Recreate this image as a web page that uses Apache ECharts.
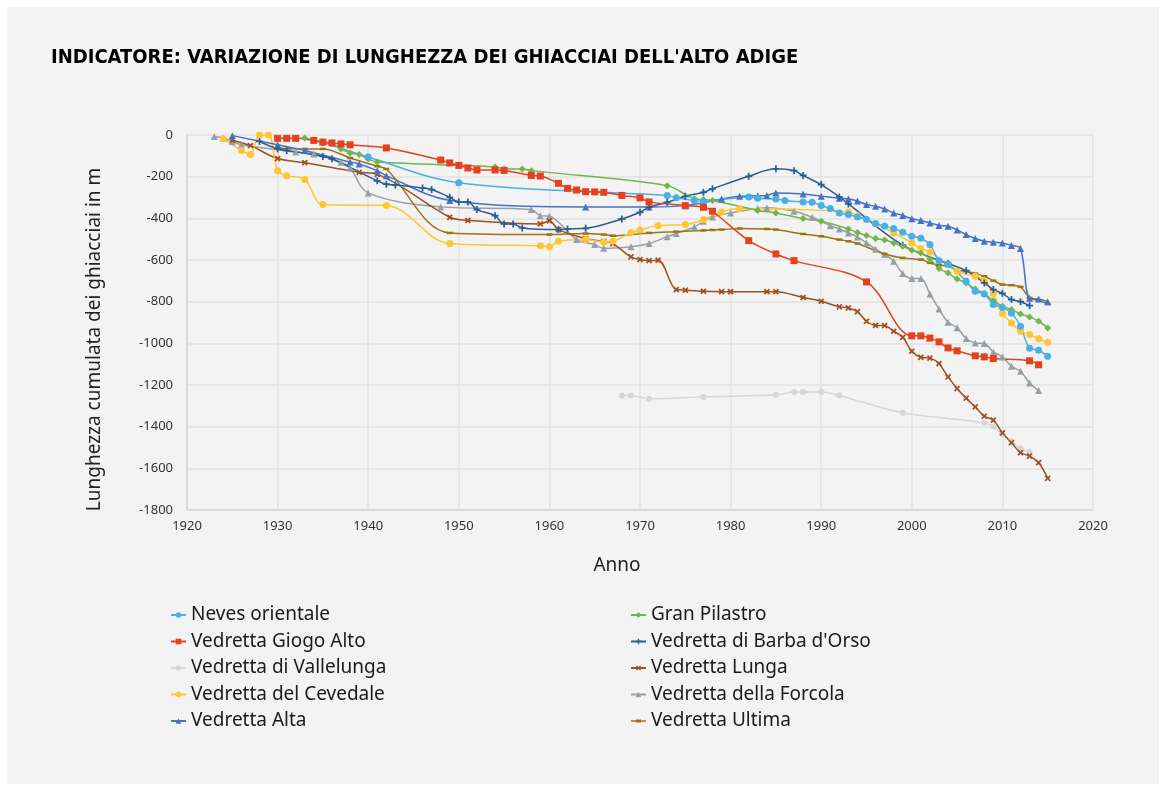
<!DOCTYPE html>
<html>
<head>
<meta charset="utf-8">
<script src="https://cdn.jsdelivr.net/npm/echarts@6/dist/echarts.min.js"></script>
<style>
  html, body { margin: 0; padding: 0; background: #fff; }
  #main { width: 1166px; height: 791px; background: #f3f3f3; border: 7px solid #fff; box-sizing: border-box; }
</style>
</head>
<body>
<div id="main"></div>
<script>
  // dati: [anno, metri]
  const neves = [[1935,-35],[1940,-106],[1950,-229],[1973,-290],[1974,-301],[1976,-315],[1977,-318],[1982,-297],[1983,-304],[1985,-307],[1986,-314],[1988,-321],[1989,-323],[1990,-338],[1991,-353],[1992,-374],[1993,-382],[1994,-393],[1995,-405],[1996,-425],[1997,-437],[1998,-449],[1999,-467],[2000,-486],[2001,-496],[2002,-526],[2003,-603],[2004,-619],[2006,-702],[2007,-750],[2008,-763],[2009,-813],[2010,-828],[2011,-856],[2012,-918],[2013,-1023],[2014,-1033],[2015,-1062]]
  const giogoAlto = [[1930,-16],[1931,-16],[1932,-16],[1934,-26],[1935,-34],[1936,-38],[1937,-43],[1938,-47],[1942,-62],[1948,-120],[1949,-134],[1950,-146],[1951,-158],[1952,-168],[1954,-168],[1955,-170],[1958,-194],[1959,-197],[1961,-232],[1962,-256],[1963,-264],[1964,-272],[1965,-273],[1966,-275],[1968,-290],[1970,-302],[1971,-321],[1975,-339],[1977,-347],[1978,-366],[1982,-507],[1985,-571],[1987,-603],[1995,-705],[2000,-964],[2001,-964],[2002,-975],[2003,-993],[2004,-1022],[2005,-1036],[2007,-1060],[2008,-1065],[2009,-1073],[2013,-1084],[2014,-1103]]
  const vallelunga = [[1968,-1250],[1969,-1250],[1971,-1266],[1977,-1257],[1985,-1247],[1987,-1234],[1988,-1234],[1990,-1234],[1992,-1250],[1999,-1333],[2008,-1381],[2009,-1400],[2010,-1437],[2011,-1469],[2012,-1504],[2013,-1520]]
  const cevedale = [[1924,-18],[1926,-74],[1927,-94],[1928,0],[1929,0],[1930,-171],[1931,-195],[1933,-214],[1935,-334],[1942,-338],[1949,-521],[1959,-532],[1960,-536],[1961,-510],[1964,-502],[1966,-513],[1967,-510],[1969,-469],[1970,-456],[1972,-435],[1975,-430],[1977,-406],[1979,-369],[1981,-353],[1993,-369],[1994,-387],[1996,-425],[1998,-470],[2000,-518],[2001,-545],[2002,-561],[2005,-654],[2007,-678],[2008,-699],[2009,-761],[2010,-857],[2011,-902],[2012,-942],[2013,-958],[2014,-978],[2015,-995]]
  const alta = [[1925,-3],[1930,-47],[1933,-74],[1938,-130],[1939,-139],[1941,-171],[1942,-195],[1949,-314],[1964,-345],[1971,-345],[1975,-339],[1979,-307],[1981,-294],[1983,-292],[1984,-290],[1985,-278],[1988,-283],[1990,-294],[1992,-304],[1993,-307],[1994,-317],[1995,-334],[1996,-342],[1997,-355],[1998,-374],[1999,-386],[2000,-402],[2001,-410],[2002,-422],[2003,-434],[2004,-438],[2005,-456],[2006,-478],[2007,-497],[2008,-510],[2009,-515],[2010,-518],[2011,-530],[2012,-545],[2013,-784],[2014,-787],[2015,-800]]
  const granPilastro = [[1933,-14],[1934,-26],[1935,-38],[1936,-42],[1937,-67],[1938,-86],[1939,-94],[1940,-115],[1941,-130],[1954,-153],[1955,-163],[1957,-163],[1958,-171],[1973,-243],[1976,-306],[1977,-310],[1978,-314],[1983,-362],[1985,-374],[1988,-401],[1990,-414],[1993,-451],[1994,-468],[1995,-482],[1996,-497],[1997,-504],[1998,-518],[1999,-534],[2000,-553],[2001,-566],[2002,-595],[2003,-641],[2004,-662],[2005,-691],[2006,-710],[2007,-739],[2008,-761],[2009,-795],[2010,-822],[2011,-838],[2012,-859],[2013,-873],[2014,-894],[2015,-926]]
  const barbaOrso = [[1928,-31],[1930,-67],[1931,-74],[1935,-103],[1936,-114],[1941,-220],[1942,-236],[1943,-240],[1946,-254],[1947,-262],[1949,-299],[1950,-321],[1951,-321],[1952,-358],[1954,-387],[1955,-427],[1956,-427],[1957,-446],[1961,-454],[1962,-451],[1964,-448],[1968,-403],[1970,-371],[1971,-346],[1973,-323],[1975,-294],[1977,-275],[1978,-258],[1982,-198],[1985,-162],[1987,-171],[1988,-194],[1990,-238],[1992,-297],[1993,-331],[1999,-529],[2004,-617],[2006,-651],[2008,-710],[2009,-742],[2010,-760],[2011,-790],[2012,-800],[2013,-819]]
  const lunga = [[1925,-25],[1927,-51],[1930,-113],[1933,-133],[1939,-179],[1941,-189],[1949,-395],[1951,-410],[1959,-427],[1960,-412],[1961,-454],[1964,-497],[1966,-511],[1967,-521],[1969,-585],[1970,-598],[1971,-603],[1972,-601],[1974,-742],[1975,-745],[1977,-750],[1979,-752],[1980,-752],[1984,-752],[1985,-752],[1988,-780],[1990,-798],[1992,-825],[1993,-830],[1994,-848],[1995,-894],[1996,-914],[1997,-915],[1998,-942],[1999,-971],[2000,-1038],[2001,-1067],[2002,-1071],[2003,-1097],[2004,-1161],[2005,-1217],[2006,-1263],[2007,-1305],[2008,-1350],[2009,-1369],[2010,-1430],[2011,-1477],[2012,-1525],[2013,-1541],[2014,-1573],[2015,-1648]]
  const forcola = [[1923,-7],[1924,-14],[1925,-31],[1926,-47],[1932,-82],[1934,-91],[1937,-131],[1938,-158],[1940,-278],[1948,-345],[1958,-358],[1959,-387],[1960,-390],[1963,-502],[1965,-526],[1966,-544],[1969,-536],[1971,-521],[1973,-488],[1974,-473],[1976,-441],[1977,-414],[1978,-393],[1980,-374],[1983,-353],[1984,-349],[1987,-366],[1989,-395],[1991,-435],[1992,-451],[1993,-470],[1994,-489],[1995,-518],[1996,-548],[1997,-574],[1998,-606],[1999,-665],[2000,-689],[2001,-689],[2002,-763],[2003,-835],[2004,-899],[2005,-925],[2006,-977],[2007,-998],[2008,-1001],[2009,-1041],[2010,-1065],[2011,-1110],[2012,-1134],[2013,-1190],[2014,-1226]]
  const ultima = [[1930,-62],[1933,-67],[1935,-67],[1938,-110],[1941,-150],[1942,-163],[1949,-470],[1960,-478],[1964,-473],[1966,-478],[1967,-483],[1971,-470],[1974,-464],[1977,-458],[1978,-456],[1979,-454],[1981,-449],[1984,-451],[1985,-454],[1988,-475],[1990,-486],[1992,-502],[1993,-510],[1994,-521],[1997,-571],[1999,-590],[2001,-598],[2002,-614],[2003,-625],[2004,-630],[2005,-649],[2006,-654],[2007,-665],[2008,-678],[2009,-699],[2010,-718],[2011,-721],[2012,-729],[2013,-782],[2014,-795],[2015,-811]]

  const leftNames = ['Neves orientale', 'Vedretta Giogo Alto', 'Vedretta di Vallelunga', 'Vedretta del Cevedale', 'Vedretta Alta']
  const rightNames = ['Gran Pilastro', "Vedretta di Barba d'Orso", 'Vedretta Lunga', 'Vedretta della Forcola', 'Vedretta Ultima']

  // simboli
  const plus = 'path://M3,0H5V3H8V5H5V8H3V5H0V3H3Z'
  const dashIcon = 'path://M0,3.2H15V4.8H0Z M5,2.4H10V5.6H5Z'

  const chart = echarts.init(document.getElementById('main'))

  const mkSeries = (name, data, color, symbol, size, extra) => Object.assign({
    name: name,
    type: 'line',
    data: data,
    smooth: 0.35,
    symbol: symbol,
    symbolSize: size,
    showAllSymbol: true,
    lineStyle: { color: color, width: 1.5 },
    itemStyle: { color: color },
    emphasis: { disabled: true },
    animation: false
  }, extra || {})

  const legendBase = {
    orient: 'vertical',
    top: 592,
    itemWidth: 15,
    itemHeight: 7,
    itemGap: 4.5,
    textStyle: { fontFamily: 'Noto Sans', fontSize: 19, color: '#1a1a1a', lineHeight: 22 }
  }

  chart.setOption({
    title: {
      text: "INDICATORE: VARIAZIONE DI LUNGHEZZA DEI GHIACCIAI DELL'ALTO ADIGE",
      left: 39,
      top: 36,
      textStyle: { fontFamily: "'DejaVu Sans Condensed', 'DejaVu Sans', sans-serif", fontWeight: 'bold', fontSize: 20, color: '#000' }
    },
    legend: [
      Object.assign({ left: 158, data: leftNames }, legendBase),
      Object.assign({ left: 618, data: rightNames.map(n => n === 'Vedretta Ultima' ? { name: n, icon: dashIcon } : n) }, legendBase)
    ],
    grid: { left: 180, top: 128, right: 66, bottom: 274 },
    xAxis: {
      type: 'value',
      min: 1920,
      max: 2020,
      interval: 10,
      name: 'Anno',
      nameLocation: 'middle',
      nameGap: 46,
      nameTextStyle: { fontFamily: 'Noto Sans', fontSize: 19, color: '#222', padding: [0, 46, 0, 0] },
      axisLine: { onZero: false, lineStyle: { color: '#d4d4d4', width: 1.5 } },
      axisTick: { show: false },
      axisLabel: { fontFamily: 'Noto Sans', fontSize: 13, color: '#333', margin: 10, formatter: v => String(v) },
      splitLine: { lineStyle: { color: '#e2e2e2', width: 1.5 } }
    },
    yAxis: {
      type: 'value',
      min: -1800,
      max: 0,
      interval: 200,
      name: 'Lunghezza cumulata dei ghiacciai in m',
      nameLocation: 'middle',
      nameGap: 83,
      nameTextStyle: { fontFamily: 'Noto Sans', fontSize: 19, color: '#222', padding: [0, 34, 0, 0] },
      axisLine: { show: true, lineStyle: { color: '#d4d4d4', width: 1.5 } },
      axisTick: { show: false },
      axisLabel: { fontFamily: 'Noto Sans', fontSize: 13, color: '#333', margin: 14, formatter: v => String(v) },
      splitLine: { lineStyle: { color: '#e2e2e2', width: 1.5 } }
    },
    series: [
      mkSeries('Vedretta di Vallelunga', vallelunga, '#d6d6d6', 'circle', 6),
      mkSeries('Vedretta della Forcola', forcola, '#979fa6', 'triangle', 7),
      mkSeries('Vedretta Ultima', ultima, '#9c7412', 'rect', [6, 2.5]),
      mkSeries('Vedretta Lunga', lunga, '#a14f1c', plus, 7, { symbolRotate: 45 }),
      mkSeries('Vedretta del Cevedale', cevedale, '#ffc632', 'circle', 7),
      mkSeries('Vedretta Alta', alta, '#4472c4', 'triangle', 7),
      mkSeries("Vedretta di Barba d'Orso", barbaOrso, '#2d5e93', plus, 7),
      mkSeries('Gran Pilastro', granPilastro, '#72b54a', 'diamond', 7),
      mkSeries('Neves orientale', neves, '#48b0e6', 'circle', 7),
      mkSeries('Vedretta Giogo Alto', giogoAlto, '#e8401c', 'rect', 7)
    ]
  })
</script>
</body>
</html>
